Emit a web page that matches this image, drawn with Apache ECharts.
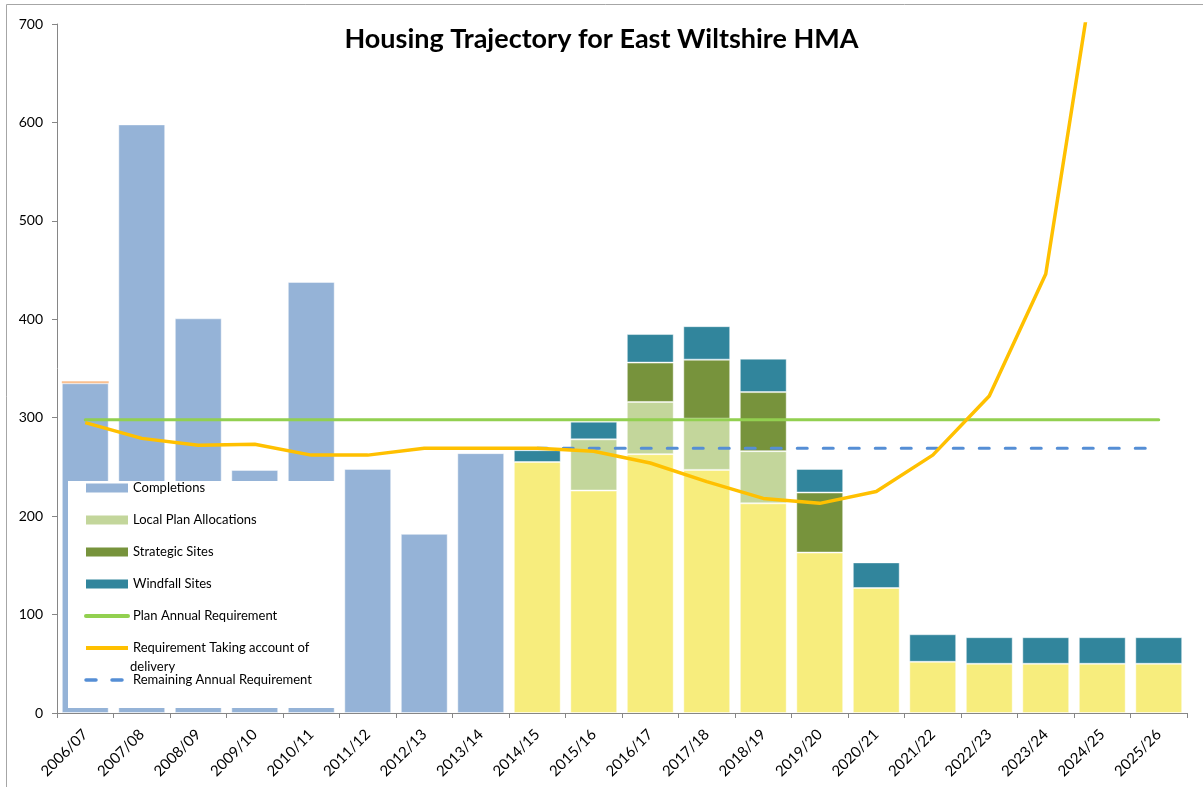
<!DOCTYPE html>
<html>
<head>
<meta charset="utf-8">
<script src="https://cdn.jsdelivr.net/npm/echarts@6/dist/echarts.min.js"></script>
<style>
  html, body { margin: 0; padding: 0; background: #fff; }
  #chart { width: 1203px; height: 787px; }
</style>
</head>
<body>
<div id="chart"></div>
<script>
// data
var categories = ['2006/07', '2007/08', '2008/09', '2009/10', '2010/11', '2011/12', '2012/13', '2013/14',
  '2014/15', '2015/16', '2016/17', '2017/18', '2018/19', '2019/20', '2020/21', '2021/22',
  '2022/23', '2023/24', '2024/25', '2025/26'];
var completions = [335, 598, 401, 247, 438, 248, 182, 264, null, null, null, null, null, null, null, null, null, null, null, null];
var otherCompletions = [2, null, null, null, null, null, null, null, null, null, null, null, null, null, null, null, null, null, null, null];
var commitments = [null, null, null, null, null, null, null, null, 255, 226, 263, 247, 213, 163, 127, 52, 50, 50, 50, 50];
var localPlan = [null, null, null, null, null, null, null, null, null, 52, 53, 52, 53, null, null, null, null, null, null, null];
var strategic = [null, null, null, null, null, null, null, null, null, null, 40, 60, 60, 61, null, null, null, null, null, null];
var windfall = [null, null, null, null, null, null, null, null, 12, 18, 29, 34, 34, 24, 26, 28, 27, 27, 27, 27];
var planReq = [298, 298, 298, 298, 298, 298, 298, 298, 298, 298, 298, 298, 298, 298, 298, 298, 298, 298, 298, 298];
var deliveryReq = [295, 279, 272, 273, 262, 262, 269, 269, 269, 266, 254, 235, 218, 213, 225, 262, 322, 446, 810, null];
var remainingReq = [null, null, null, null, null, null, null, null, 269, 269, 269, 269, 269, 269, 269, 269, 269, 269, 269, 269];

var FONT = 'Lato';
var myChart = echarts.init(document.getElementById('chart'));

function barSeries(name, data, color, border) {
  return {
    name: name, type: 'bar', stack: 'total', data: data,
    barCategoryGap: '17%',
    itemStyle: { color: color, borderColor: 'rgba(255,255,255,0.45)', borderWidth: border ? 1 : 0 },
    emphasis: { disabled: true }
  };
}

var noBorder = { borderWidth: 0 };
var hideSymbol = { opacity: 0 };

var option = {
  backgroundColor: '#fff',
  animation: false,
  textStyle: { fontFamily: FONT },
  title: {
    text: 'Housing Trajectory for East Wiltshire HMA',
    left: 'center', top: 21,
    textStyle: { fontFamily: FONT, fontSize: 27, fontWeight: 'bold', color: '#000' }
  },
  graphic: [
    { type: 'rect', shape: { x: 6.5, y: 4.5, width: 1300, height: 900 }, style: { fill: null, stroke: '#a6a6a6', lineWidth: 1 }, z: -1 },
    { type: 'text', left: 130, top: 660, z: 30, style: { text: 'delivery', fontFamily: FONT, fontSize: 13, fill: '#000' } }
  ],
  legend: {
    orient: 'vertical',
    left: 68, top: 481,
    padding: [0, 30, 21, 16],
    backgroundColor: '#fff',
    itemWidth: 42, itemHeight: 9, itemGap: 18,
    z: 20,
    textStyle: { fontFamily: FONT, fontSize: 13, lineHeight: 14, color: '#000' },
    formatter: function (name) {
      return name === 'Requirement Taking account of delivery' ? 'Requirement Taking account of' : name;
    },
    data: [
      { name: 'Completions', icon: 'rect', itemStyle: noBorder },
      { name: 'Local Plan Allocations', icon: 'rect', itemStyle: noBorder },
      { name: 'Strategic Sites', icon: 'rect', itemStyle: noBorder },
      { name: 'Windfall Sites', icon: 'rect', itemStyle: noBorder },
      { name: 'Plan Annual Requirement', itemStyle: hideSymbol, lineStyle: { width: 4 } },
      { name: 'Requirement Taking account of delivery', itemStyle: hideSymbol, lineStyle: { width: 4 } },
      { name: 'Remaining Annual Requirement', itemStyle: hideSymbol, lineStyle: { width: 3.5 } }
    ]
  },
  grid: { left: 57, right: 16, top: 24, bottom: 74 },
  xAxis: {
    type: 'category',
    data: categories,
    axisLine: { lineStyle: { color: '#868686', width: 1 } },
    axisTick: { show: true, alignWithLabel: false, length: 5, lineStyle: { color: '#868686' } },
    axisLabel: { rotate: 45, fontSize: 15, color: '#000', margin: 19, interval: 0, fontFamily: FONT }
  },
  yAxis: {
    type: 'value',
    min: 0, max: 700, interval: 100,
    axisLine: { show: true, lineStyle: { color: '#868686', width: 1 } },
    axisTick: { show: true, length: 5, lineStyle: { color: '#868686' } },
    splitLine: { show: false },
    axisLabel: { fontSize: 14, color: '#000', margin: 14, fontFamily: FONT }
  },
  series: [
    barSeries('Completions', completions, '#95b3d7', true),
    barSeries('Other Completions', otherCompletions, '#fac090', false),
    barSeries('Commitments', commitments, '#f7ed7d', true),
    barSeries('Local Plan Allocations', localPlan, '#c3d69b', true),
    barSeries('Strategic Sites', strategic, '#77933c', true),
    barSeries('Windfall Sites', windfall, '#31859c', true),
    {
      name: 'Plan Annual Requirement', type: 'line', data: planReq, symbol: 'none', z: 5,
      itemStyle: { color: '#92d050' },
      lineStyle: { color: '#92d050', width: 3, cap: 'round' }
    },
    {
      name: 'Requirement Taking account of delivery', type: 'line', data: deliveryReq, symbol: 'none', z: 6, clip: true,
      itemStyle: { color: '#ffc000' },
      lineStyle: { color: '#ffc000', width: 3.5 }
    },
    {
      name: 'Remaining Annual Requirement', type: 'line', data: remainingReq, symbol: 'none', z: 5,
      itemStyle: { color: '#558ed5' },
      lineStyle: { color: '#558ed5', width: 3, type: [10, 16], cap: 'round' }
    }
  ]
};

myChart.setOption(option);
</script>
</body>
</html>
